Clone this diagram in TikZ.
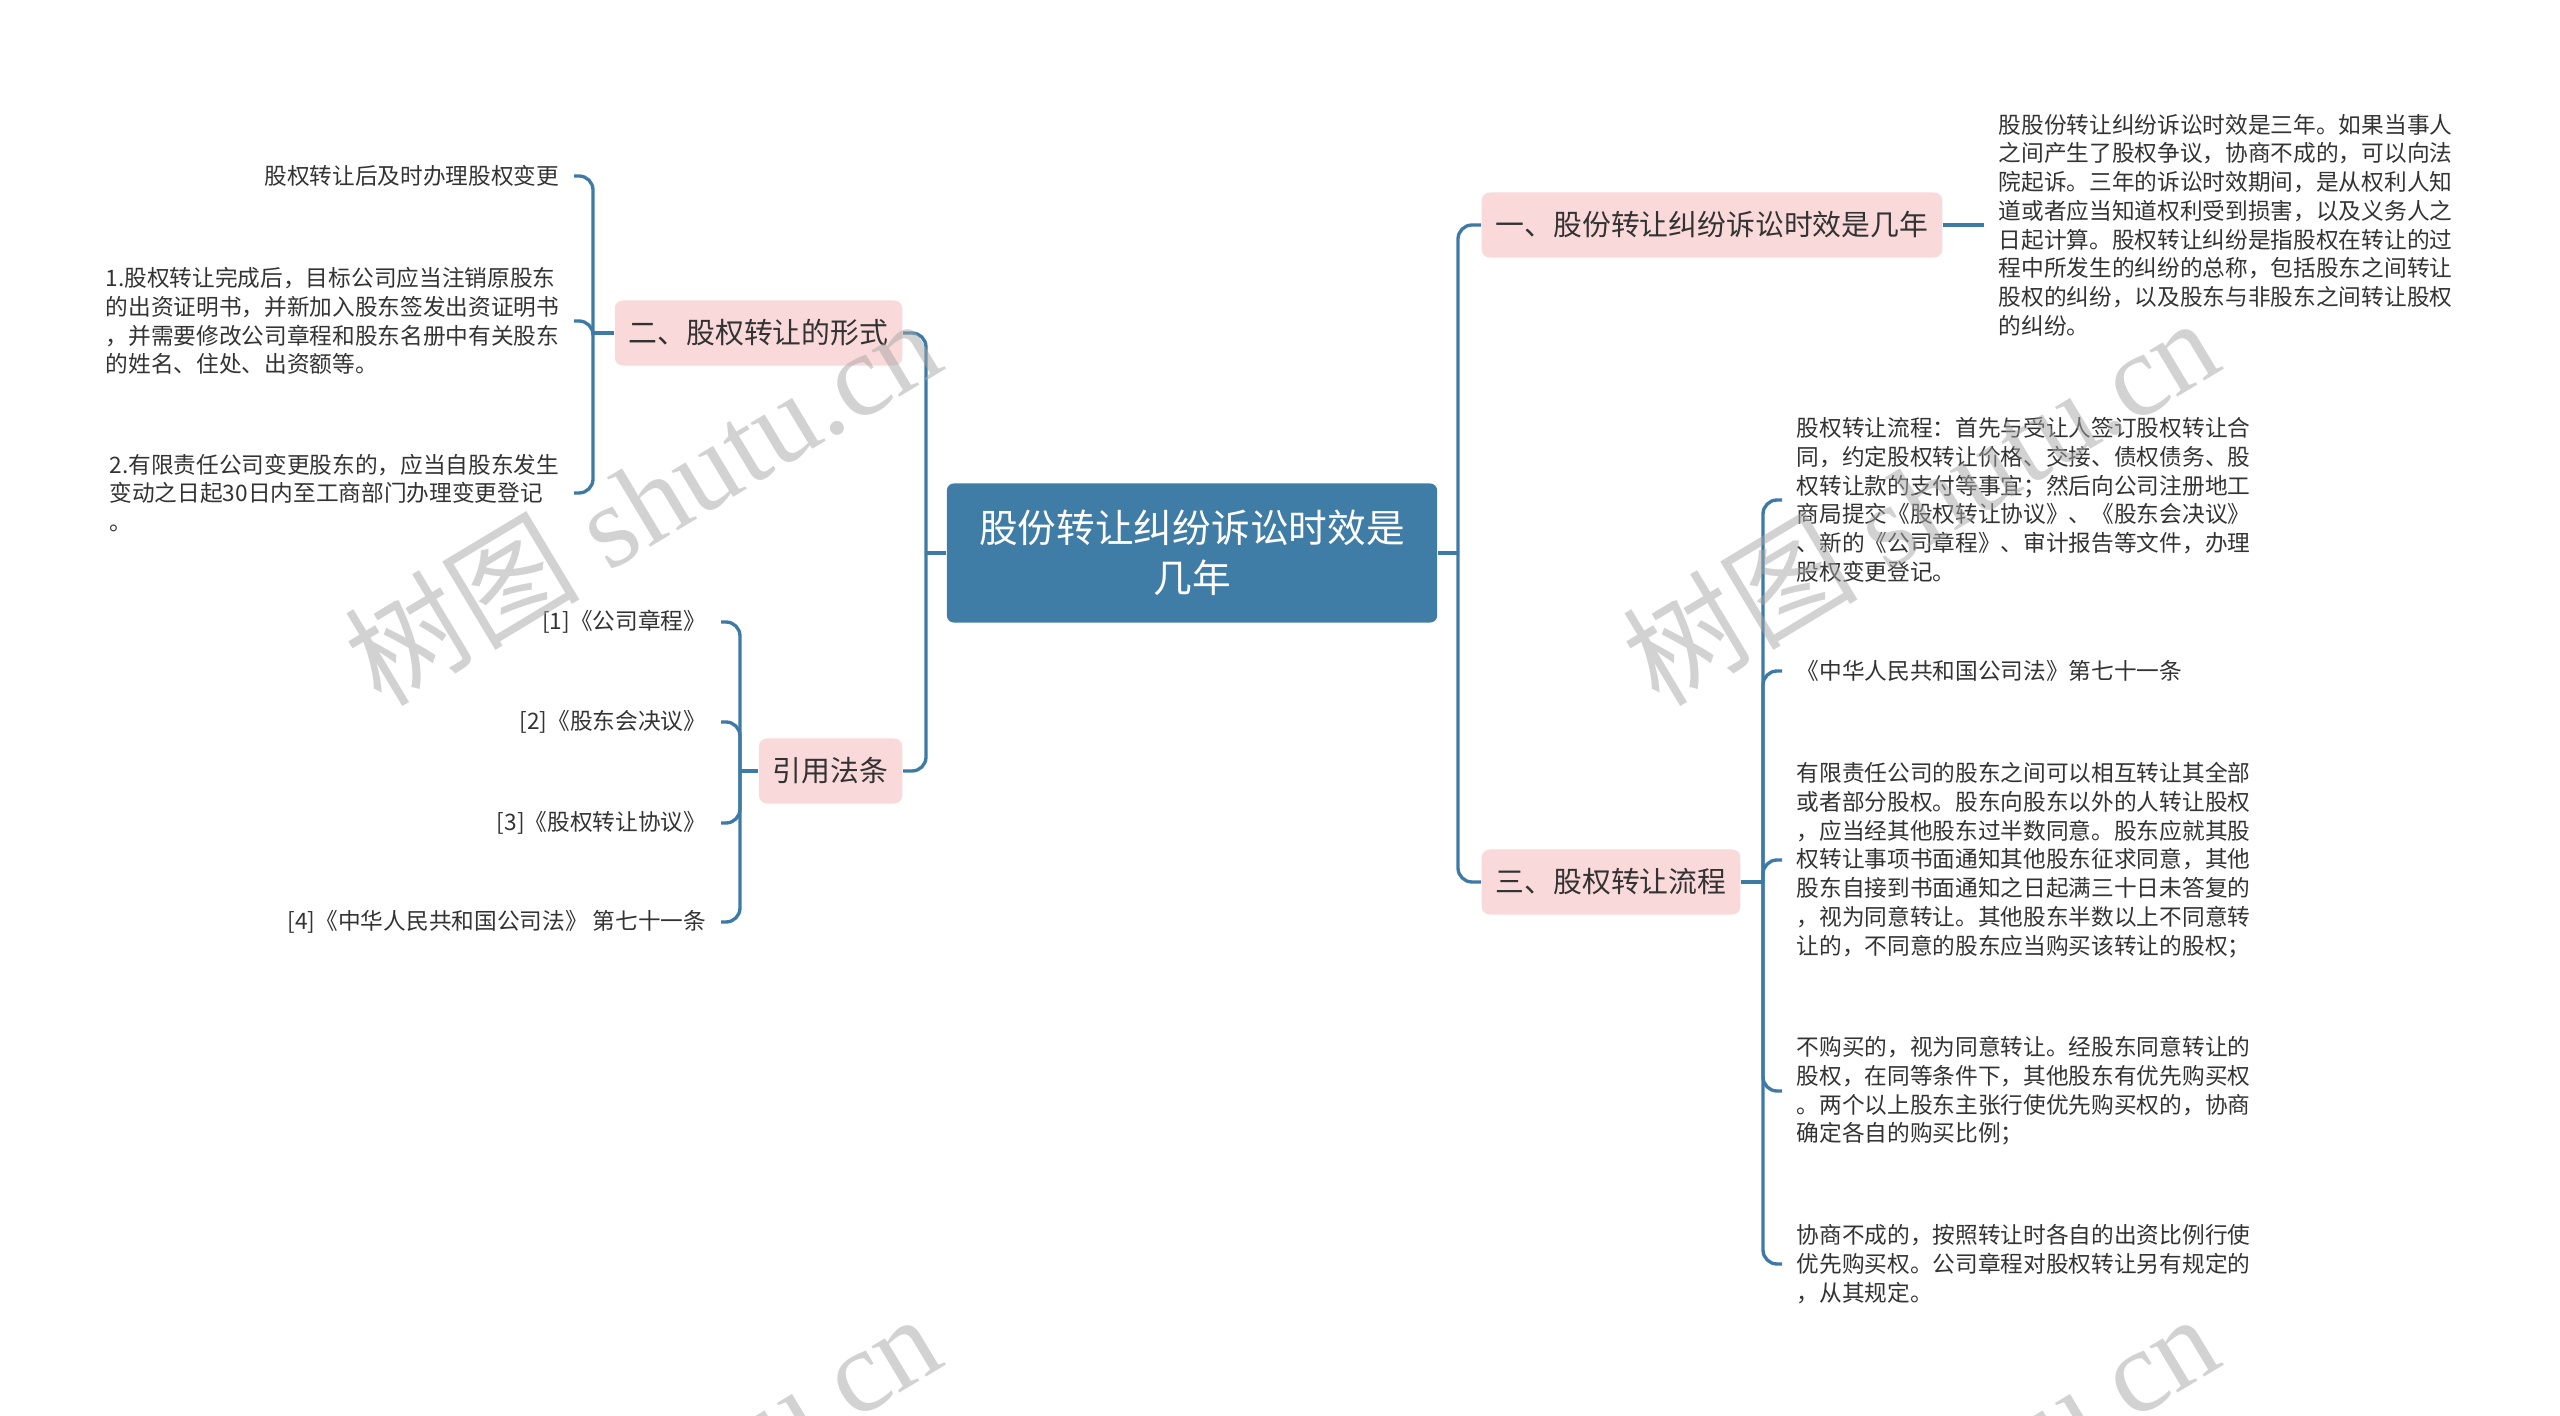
\documentclass[tikz,border=0pt]{standalone}
\usepackage{fontspec}
\newfontfamily\cjk{Noto Sans CJK SC}
\newfontfamily\wmserif{Liberation Serif}
\definecolor{linkblue}{HTML}{3D7BA6}
\definecolor{rootblue}{HTML}{3F7CA6}
\definecolor{pinkbox}{HTML}{F9D9D9}
\definecolor{txt}{HTML}{333333}
\tikzset{
  link/.style={draw=linkblue, line width=0.95pt, rounded corners=0.14cm},
  rootbox/.style={fill=rootblue, text=white, rounded corners=0.07cm, align=center,
    minimum width=4.9cm, minimum height=1.39cm, font=\cjk\fontsize{11}{14.4}\selectfont},
  branch/.style={fill=pinkbox, text=txt, rounded corners=0.08cm, inner xsep=0.14cm,
    minimum height=0.65cm, font=\cjk\fontsize{8.2}{10}\selectfont},
  leaf/.style={text=txt, align=left, inner xsep=0.14cm, inner ysep=0.05cm,
    font=\cjk\fontsize{6.45}{8.17}\selectfont},
  wmark/.style={text=black!35, opacity=0.5, rotate=31, font=\wmserif\fontsize{33.5}{38}\selectfont}
}
\begin{document}
\begin{tikzpicture}[x=0.01cm, y=-0.01cm]
\useasboundingbox (0,0) rectangle (2560,1416);

\node[rootbox] (root) at (1192,553) {股份转让纠纷诉讼时效是\\几年};

% right side
\node[branch, anchor=west] (one) at (1481,225) {一、股份转让纠纷诉讼时效是几年};
\node[branch, anchor=west] (three) at (1481,882) {三、股权转让流程};
\coordinate (rj) at (1458,553);
\draw[link] (root.east) -- (rj);
\draw[link] (rj) |- (one.west);
\draw[link] (rj) |- (three.west);

\node[leaf, anchor=west] (oneleaf) at (1984,225) {股股份转让纠纷诉讼时效是三年。如果当事人\\
之间产生了股权争议，协商不成的，可以向法\\
院起诉。三年的诉讼时效期间，是从权利人知\\
道或者应当知道权利受到损害，以及义务人之\\
日起计算。股权转让纠纷是指股权在转让的过\\
程中所发生的纠纷的总称，包括股东之间转让\\
股权的纠纷，以及股东与非股东之间转让股权\\
的纠纷。};
\draw[link] (one.east) -- (oneleaf.west);

\node[leaf, anchor=west] (flowa) at (1782,500) {股权转让流程：首先与受让人签订股权转让合\\
同，约定股权转让价格、交接、债权债务、股\\
权转让款的支付等事宜；然后向公司注册地工\\
商局提交《股权转让协议》、《股东会决议》\\
、新的《公司章程》、审计报告等文件，办理\\
股权变更登记。};
\node[leaf, anchor=west] (flowb) at (1782,671) {《中华人民共和国公司法》第七十一条};
\node[leaf, anchor=west] (flowc) at (1782,860) {有限责任公司的股东之间可以相互转让其全部\\
或者部分股权。股东向股东以外的人转让股权\\
，应当经其他股东过半数同意。股东应就其股\\
权转让事项书面通知其他股东征求同意，其他\\
股东自接到书面通知之日起满三十日未答复的\\
，视为同意转让。其他股东半数以上不同意转\\
让的，不同意的股东应当购买该转让的股权；};
\node[leaf, anchor=west] (flowd) at (1782,1091) {不购买的，视为同意转让。经股东同意转让的\\
股权，在同等条件下，其他股东有优先购买权\\
。两个以上股东主张行使优先购买权的，协商\\
确定各自的购买比例；};
\node[leaf, anchor=west] (flowe) at (1782,1264) {协商不成的，按照转让时各自的出资比例行使\\
优先购买权。公司章程对股权转让另有规定的\\
，从其规定。};
\coordinate (tj) at (1763,882);
\draw[link] (three.east) -- (tj);
\foreach \k in {a,b,c,d,e}
  \draw[link] (tj) |- (flow\k.west);

% left side
\node[branch, anchor=east] (two) at (903,333) {二、股权转让的形式};
\node[branch, anchor=east] (cite) at (903,771) {引用法条};
\coordinate (lj) at (926,553);
\draw[link] (root.west) -- (lj);
\draw[link] (lj) |- (two.east);
\draw[link] (lj) |- (cite.east);

\node[leaf, anchor=east] (forma) at (574,176) {股权转让后及时办理股权变更};
\node[leaf, anchor=east] (formb) at (574,321) {1.股权转让完成后，目标公司应当注销原股东\\
的出资证明书，并新加入股东签发出资证明书\\
，并需要修改公司章程和股东名册中有关股东\\
的姓名、住处、出资额等。};
\node[leaf, anchor=east] (formc) at (574,493) {2.有限责任公司变更股东的，应当自股东发生\\
变动之日起30日内至工商部门办理变更登记\\
。};
\coordinate (ej) at (593,333);
\draw[link] (two.west) -- (ej);
\foreach \k in {a,b,c}
  \draw[link] (ej) |- (form\k.east);

\coordinate (cj) at (740,771);
\draw[link] (cite.west) -- (cj);
\foreach \n/\y/\lbl in {1/622/{[1]《公司章程》}, 2/722/{[2]《股东会决议》},
    3/823/{[3]《股权转让协议》}, 4/922/{[4]《中华人民共和国公司法》 第七十一条}}{
  \node[leaf, anchor=east] (law\n) at (721,\y) {\lbl};
  \draw[link] (cj) |- (law\n.east);
}

% watermarks
\begin{scope}
\clip (0,0) rectangle (2560,1416);
\foreach \wx/\wy in {642/500, 1920/500, 642/1496, 1920/1496}
  \node[wmark] (wm) at (\wx,\wy) {{\cjk 树图} shutu.cn};
\end{scope}
\end{tikzpicture}
\end{document}
